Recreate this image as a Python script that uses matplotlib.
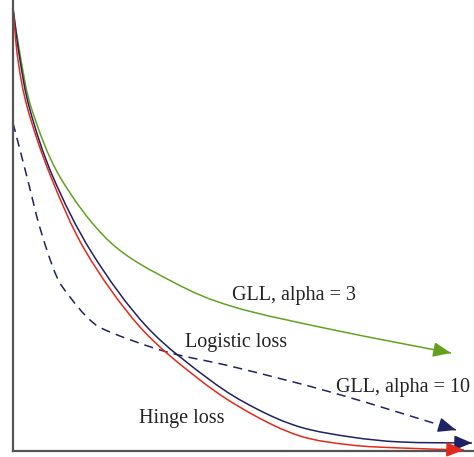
import matplotlib.pyplot as plt
from matplotlib.path import Path
from matplotlib.patches import PathPatch

# --- Curve data (margin on x, loss on y; arbitrary units) ---
gll3_x = [0, 8, 19, 47, 97, 160, 221, 321, 438]
gll3_y = [441, 391, 341, 274, 209, 169, 144, 121, 98]

logistic_x = [0, 7, 17, 40, 79, 134, 197, 242, 287, 338, 388, 459]
logistic_y = [443, 391, 341, 274, 198, 124, 71, 43, 24, 14, 9, 8]

hinge_x = [0, 5, 15, 38, 73, 127, 187, 237, 287, 338, 388, 451]
hinge_y = [443, 391, 341, 274, 199, 124, 71, 38, 15, 6, 3, 1]

gll10_x = [0, 14, 27, 43, 57, 77, 97, 154, 221, 321, 443]
gll10_y = [328, 274, 223, 176, 154, 131, 119, 99, 84, 58, 21]

GREEN = "#63a11f"
NAVY = "#1e2262"
RED = "#e3291b"

fig = plt.figure(figsize=(4.74, 4.57), dpi=100)
ax = fig.add_axes([13 / 474, 6 / 457, 461 / 474, 451 / 457])
ax.set_xlim(0, 461)
ax.set_ylim(0, 451)


def smooth_path(xs, ys):
    """Cubic Bezier path through the points (Catmull-Rom tangents)."""
    pts = list(zip(xs, ys))
    verts = [pts[0]]
    codes = [Path.MOVETO]
    for i in range(len(pts) - 1):
        p0 = pts[max(i - 1, 0)]
        p1 = pts[i]
        p2 = pts[i + 1]
        p3 = pts[min(i + 2, len(pts) - 1)]
        c1 = (p1[0] + (p2[0] - p0[0]) / 6, p1[1] + (p2[1] - p0[1]) / 6)
        c2 = (p2[0] - (p3[0] - p1[0]) / 6, p2[1] - (p3[1] - p1[1]) / 6)
        verts += [c1, c2, p2]
        codes += [Path.CURVE4] * 3
    return Path(verts, codes)


def draw_curve(xs, ys, color, dashed=False):
    ls = (0, (6, 4)) if dashed else "-"
    ax.add_patch(PathPatch(smooth_path(xs, ys), fill=False, edgecolor=color,
                           lw=1.1, linestyle=ls, clip_on=False))
    # arrow head at the end of the curve
    dx, dy = xs[-1] - xs[-2], ys[-1] - ys[-2]
    n = (dx ** 2 + dy ** 2) ** 0.5
    back = (xs[-1] - 12 * dx / n, ys[-1] - 12 * dy / n)
    ax.annotate("", xy=(xs[-1], ys[-1]), xytext=back,
                arrowprops=dict(arrowstyle="-|>,head_length=0.6,head_width=0.25",
                                mutation_scale=18, color=color, lw=1.1,
                                shrinkA=0, shrinkB=0),
                annotation_clip=False)


draw_curve(gll3_x, gll3_y, GREEN)
draw_curve(gll10_x, gll10_y, NAVY, dashed=True)
draw_curve(logistic_x, logistic_y, NAVY)
draw_curve(hinge_x, hinge_y, RED)

font = dict(family="Liberation Serif", fontsize=14.5, color="#222222", va="baseline")
ax.text(219, 151, "GLL, alpha = 3", **font)
ax.text(172, 104, "Logistic loss", **font)
ax.text(323, 59, "GLL, alpha = 10", **font)
ax.text(126, 28, "Hinge loss", **font)

for side in ("top", "right"):
    ax.spines[side].set_visible(False)
for side in ("left", "bottom"):
    ax.spines[side].set_color("#555555")
    ax.spines[side].set_linewidth(1.6)
ax.set_xticks([])
ax.set_yticks([])

fig.savefig("out.png", dpi=100)
